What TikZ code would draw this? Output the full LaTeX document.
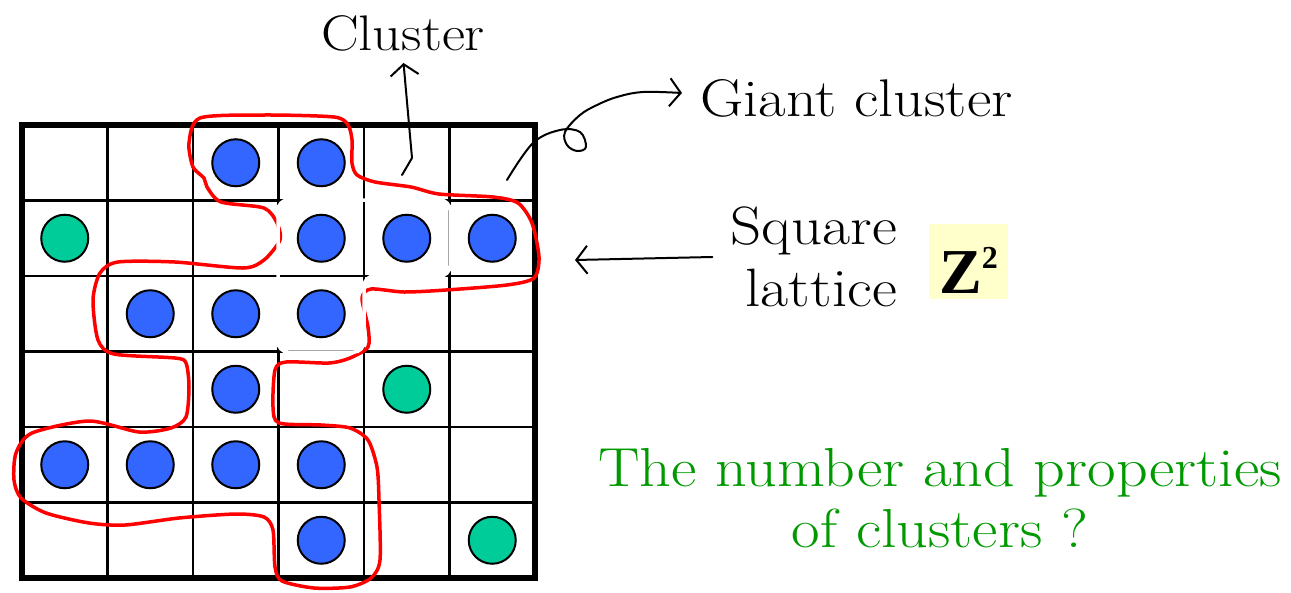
\documentclass[tikz,border=0pt]{standalone}
\usepackage{fontspec}
\usepackage{tikz}
\usetikzlibrary{
  arrows.meta,
  positioning, calc
}
\newfontfamily\zfont{Liberation Serif}
\newfontfamily\lblfont{lmroman17-regular}[Extension=.otf,FakeStretch=1.13]
\definecolor{siteblue}{RGB}{51,102,255}
\definecolor{sitegreen}{RGB}{0,204,153}
\definecolor{askgreen}{RGB}{0,153,0}
\definecolor{zyellow}{RGB}{255,255,204}
\definecolor{loopred}{RGB}{255,0,0}
\tikzset{
  occsite/.style={circle,draw=black,line width=2pt,fill=siteblue,minimum size=47pt,inner sep=0pt},
  isosite/.style={occsite,fill=sitegreen},
  gridline/.style={line width=2.5pt,color=black},
  framebox/.style={line width=6pt,color=black},
  loopline/.style={line width=3.5pt,color=loopred,line join=round},
  eraseline/.style={line width=3.5pt,color=white,rounded corners=10pt},
  handarr/.style={-{Straight Barb[length=11pt,width=28pt]},line width=2pt,line cap=round,line join=round},
  lbl/.style={font=\lblfont\fontsize{50}{60}\selectfont,inner sep=6pt},
  sqlbl/.style={font=\lblfont\fontsize{54}{62}\selectfont,inner sep=6pt,align=right},
  asklbl/.style={font=\lblfont\fontsize{55}{61}\selectfont,inner sep=6pt,align=center,text=askgreen},
  zbox/.style={fill=zyellow,font=\zfont\bfseries\fontsize{64}{64}\selectfont,inner xsep=10pt,inner ysep=0pt,text height=69pt,text depth=6pt}
}

\begin{document}
\begin{tikzpicture}[x=1pt,y=-1pt]
  \useasboundingbox (0,0) rectangle (1291,592);
  \foreach \i in {1,...,5} {
    \draw[gridline] ({22+\i*85.5},125) -- ({22+\i*85.5},578);
    \draw[gridline] (22,{125+\i*75.5}) -- (535,{125+\i*75.5});
  }
  \draw[framebox] (22,125) rectangle (535,578);

  \draw[loopline] plot[smooth cycle,tension=0.45] coordinates {
    (200,118) (264,115) (334,117) (348,125) (352,140) (352,163) (357,175)
    (375,182) (411,187) (439,194) (493,197) (518,203) (532,223) (539,257)
    (534,278) (507,285) (446,290) (404,292) (371,289) (362,298) (368,327)
    (368,347) (350,358) (329,363) (286,362) (275,370) (273,407) (279,423)
    (321,425) (350,428) (368,440) (377,467) (379,500) (380,560) (371,578)
    (350,587) (314,588) (282,581) (275,567) (273,530) (264,517) (236,514)
    (179,518) (125,525) (89,523) (46,513) (21,498) (14,480) (16,453)
    (32,433) (89,421) (139,432) (171,428) (186,417) (189,387) (186,363)
    (175,358) (114,354) (98,340) (93,300) (100,273) (118,262) (175,262)
    (243,268) (264,260) (280,240) (277,223) (264,208) (221,202) (207,187)
    (204,178) (193,167) (189,143)};
  \draw[eraseline] (278,200) -- (450,200) -- (450,276) -- (364,276) -- (364,352) -- (278,352) -- cycle;

  \foreach \c/\r in {2/0,3/0,3/1,4/1,5/1,1/2,2/2,3/2,2/3,0/4,1/4,2/4,3/4,3/5}
    \node[occsite] (s-\c-\r) at ({64.75+85.5*\c},{162.75+75.5*\r}) {};
  \foreach \c/\r in {0/1,4/3,5/5}
    \node[isosite] (s-\c-\r) at ({64.75+85.5*\c},{162.75+75.5*\r}) {};

  \node[lbl,anchor=base] (cluster) at (403,50) {Cluster};
  \node[lbl,anchor=base west,font=\lblfont\fontsize{53}{60}\selectfont] (giant) at (694,116) {Giant cluster};
  \node[sqlbl,anchor=east] (square) at (903,257) {Square\\lattice};
  \node[zbox,anchor=base] (zsq) at (968.5,293) {Z\raisebox{25pt}{\fontsize{32}{32}\selectfont 2}};
  \node[asklbl] (ask) at (940,498) {The number and properties\\of clusters ?};

  \coordinate (clfoot) at (402,175);
  \coordinate (clbend) at (412,158);
  \coordinate (gcfoot) at (507,180);
  \coordinate (lattice) at (575,260);
  \draw[handarr,shorten >=6pt] (clfoot) -- (clbend) -- (cluster.south);
  \draw[handarr] plot[smooth,tension=0.6] coordinates {
    (gcfoot) (533,143) (560,130) (580,132) (586,147) (577,151) (567,145)
    (565,132) (580,115) (597,105) (617,97) (643,92) (682,93)};
  \draw[handarr] ([xshift=-12pt]square.west) -- (lattice);
\end{tikzpicture}
\end{document}
